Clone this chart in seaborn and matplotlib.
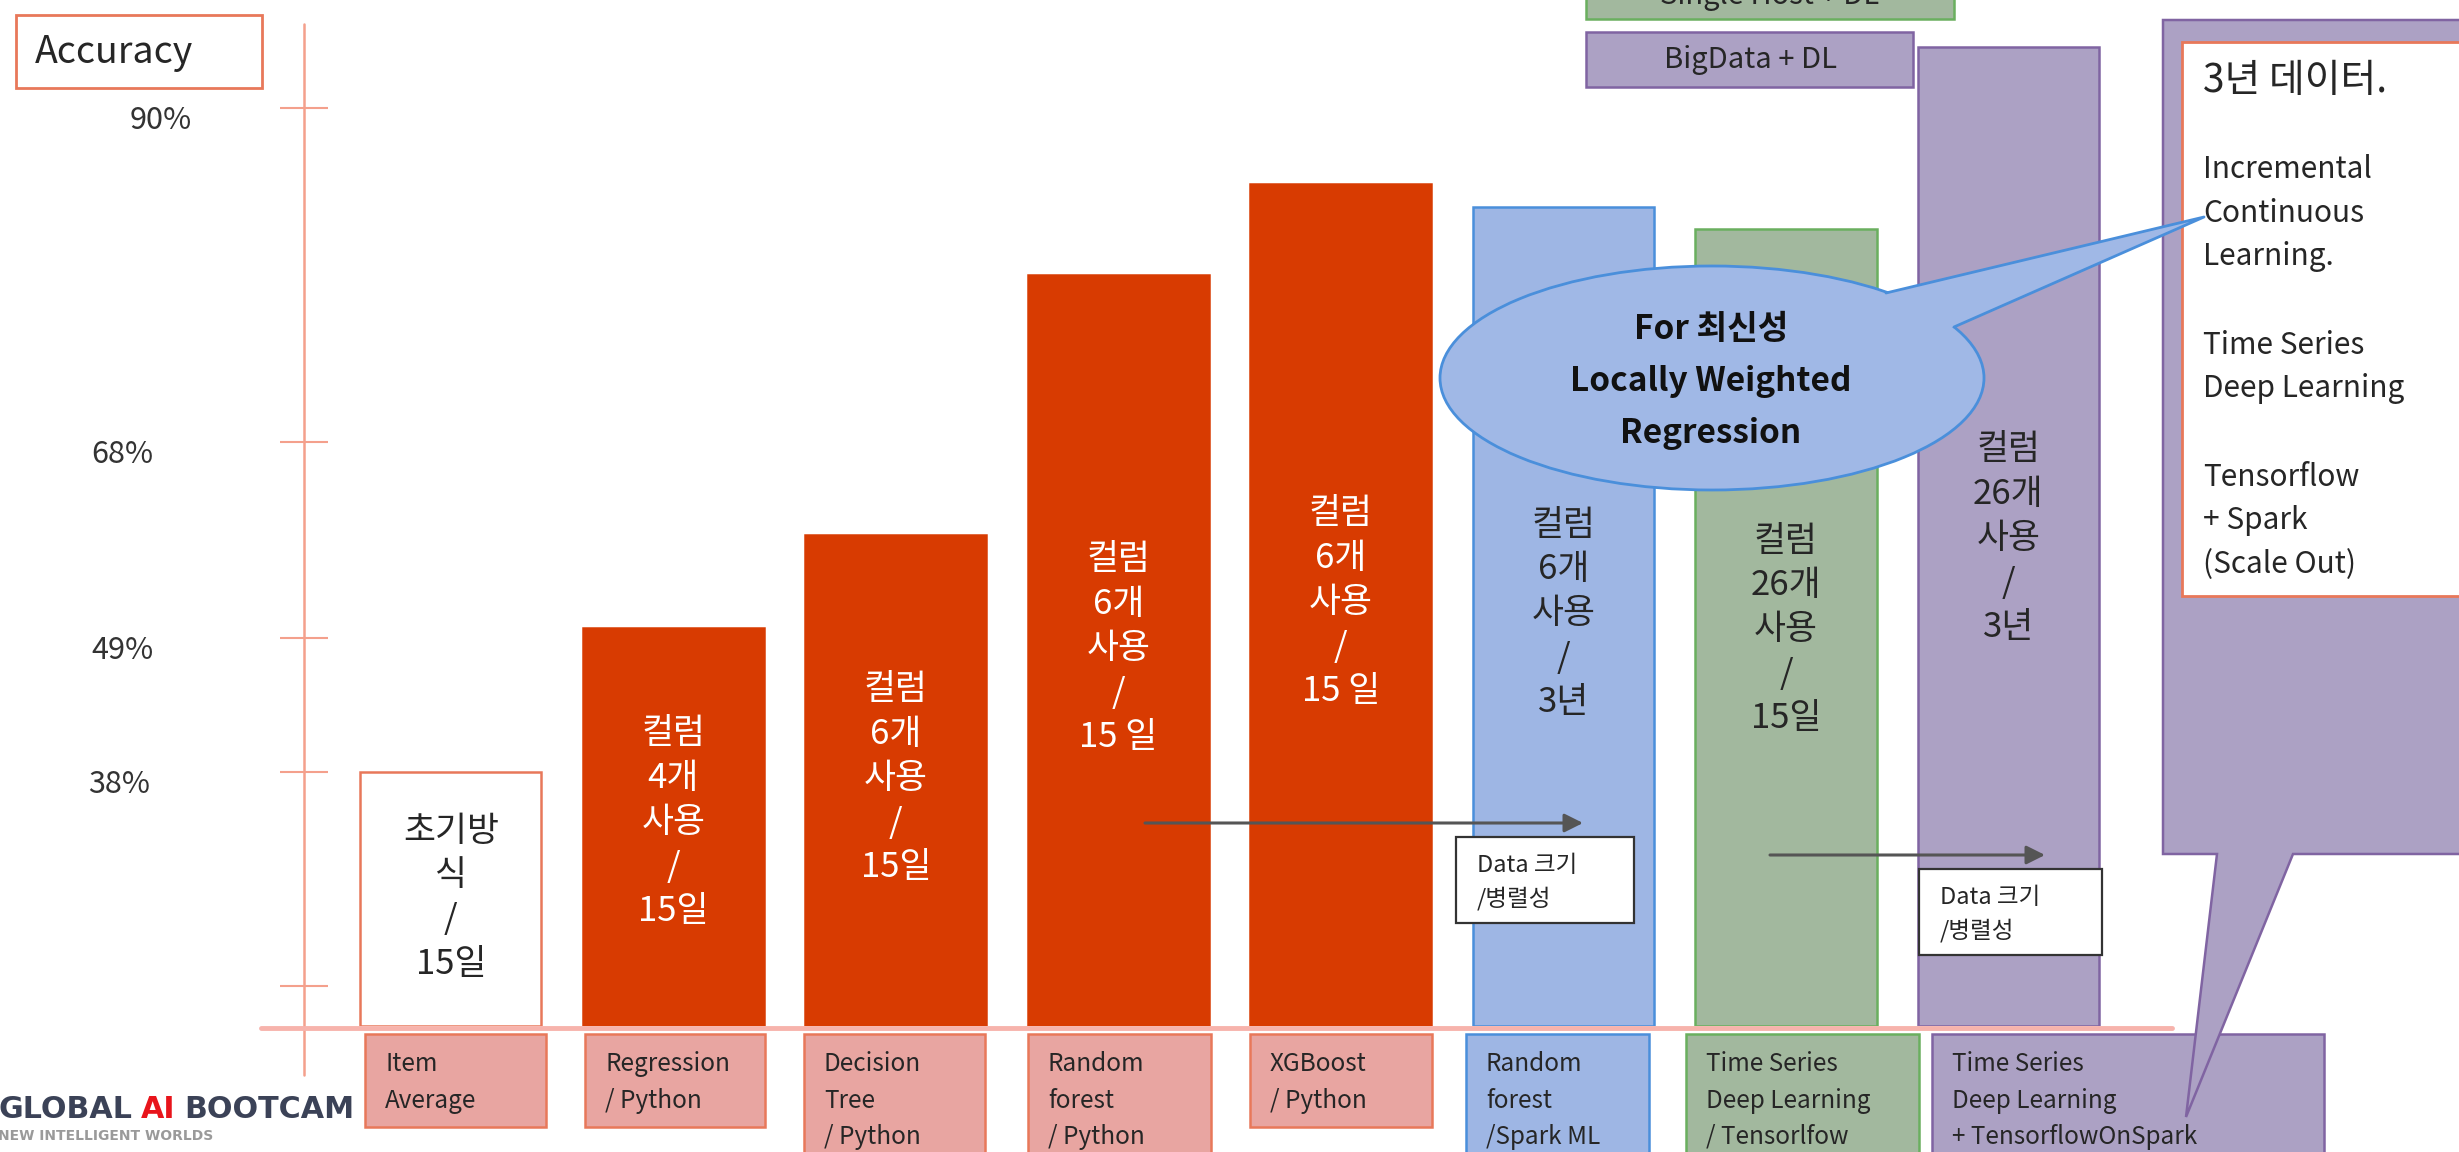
import numpy as np
import matplotlib
matplotlib.use("Agg")
import matplotlib.pyplot as plt
import matplotlib.transforms as mtransforms
from matplotlib.patches import Rectangle, Ellipse, Polygon
import seaborn as sns

# values
methods = ["Item\nAverage", "Regression\n/ Python", "Decision\nTree\n/ Python",
           "Random\nforest\n/ Python", "XGBoost\n/ Python", "Random\nforest\n/Spark ML",
           "Time Series\nDeep Learning\n/ Tensorlfow",
           "Time Series\nDeep Learning\n+ TensorflowOnSpark"]
accuracy = [38, 50, 59, 79, 85, 83.5, 82, 94]
bar_notes = ["초기방\n식\n/\n15일", "컬럼\n4개\n사용\n/\n15일", "컬럼\n6개\n사용\n/\n15일",
             "컬럼\n6개\n사용\n/\n15 일", "컬럼\n6개\n사용\n/\n15 일", "컬럼\n6개\n사용\n/\n3년",
             "컬럼\n26개\n사용\n/\n15일", "컬럼\n26개\n사용\n/\n3년"]
tick_values = [6, 38, 49, 68, 90]
tick_labels = ["", "38%", "49%", "68%", "90%"]
legend_labels = ["Single Host + DL", "BigData + DL"]
side_title = "3년 데이터."
side_lines = ["Incremental", "Continuous", "Learning.", "", "Time Series", "Deep Learning",
              "", "Tensorflow", "+ Spark", "(Scale Out)"]
balloon_lines = ["For 최신성", "Locally Weighted", "Regression"]
data_note = ["Data 크기", "/병렬성"]

# the slide's accuracy axis is hand drawn, not linear
knot_pct = [0, 38, 49, 68, 90, 100]
knot_pos = [0, 254, 388, 584, 918, 1070]


def fwd(v):
    return np.interp(v, knot_pct, knot_pos)


def inv(p):
    return np.interp(p, knot_pos, knot_pct)


ORANGE = "#D83B01"
SALMON = "#E8785A"
PINK = "#E8A5A1"
BLUE, BLUE_E = "#9EB6E4", "#4A8FDB"
GREEN, GREEN_E = "#A2B89E", "#6AAF5F"
PURPLE, PURPLE_E = "#ACA1C4", "#8064A2"
DARK = "#262626"

fills = ["#FFFFFF", ORANGE, ORANGE, ORANGE, ORANGE, BLUE, GREEN, PURPLE]
edges = [SALMON, ORANGE, ORANGE, ORANGE, ORANGE, BLUE_E, GREEN_E, PURPLE_E]
note_colors = [DARK, "white", "white", "white", "white", DARK, DARK, DARK]

sns.set_theme(style="white")
plt.rcParams["font.family"] = ["Noto Sans CJK KR", "DejaVu Sans"]

W, H = 2459, 1152
fig = plt.figure(figsize=(W / 100, H / 100), dpi=100)

ax = fig.add_axes([304 / W, 1 - 1026 / H, (2172 - 304) / W, 1026 / H])
ax.set_yscale("function", functions=(fwd, inv))
sns.barplot(x=methods, y=accuracy, hue=methods, palette=fills, legend=False,
            width=0.814, saturation=1, ax=ax)
for p, ec in zip(ax.patches, edges):
    p.set_edgecolor(ec)
    p.set_linewidth(1.8)
ax.set_xlim(-0.660, 7.735)
ax.set_ylim(0, 97.1)
ax.set_xticks([])
ax.set_xlabel("")
ax.set_yticks(tick_values)
ax.set_yticklabels([])
ax.tick_params(axis="y", left=True, direction="inout", length=35, width=1.5,
               color="#F4A08C")
ax.minorticks_off()
for s in ax.spines.values():
    s.set_visible(False)
ax.set_facecolor("none")

# overlay in slide pixels for the annotations
over = fig.add_axes([0, 0, 1, 1])
over.set_xlim(0, W)
over.set_ylim(H, 0)
over.axis("off")
over.patch.set_alpha(0)

# axis line and base line
over.plot([304, 304], [24, 1075], color="#F4A08C", lw=1.8, zorder=2)
over.plot([261, 2172], [1028, 1028], color="#F7B3AC", lw=3.5, zorder=2)

# tick labels sit a little under their ticks
ylab = mtransforms.offset_copy(
    mtransforms.blended_transform_factory(over.transData, ax.transData),
    fig=fig, x=0, y=-13, units="dots")
for v, lab, lx in zip(tick_values, tick_labels, [0, 119, 122, 122, 161]):
    if lab:
        over.text(lx, v, lab, transform=ylab, ha="center", va="center",
                  fontsize=22, color="#333333")

# accuracy box
over.add_patch(Rectangle((16, 15), 246, 73, facecolor="white", edgecolor=SALMON, lw=2))
over.text(35, 52, "Accuracy", fontsize=27, va="center", color=DARK)

# text in the bars
bx = mtransforms.blended_transform_factory(ax.transData, over.transData)
first_y = [831, 734, 690, 560, 514, 525, 541, 450]
for i, (note, c) in enumerate(zip(bar_notes, note_colors)):
    for k, line in enumerate(note.split("\n")):
        over.text(i, first_y[i] + k * 44.4, line, transform=bx, ha="center",
                  va="center", fontsize=25, color=c, zorder=3)

# logo, sized so that it ends where the first label box begins
logo_font = dict(fontweight="bold", family="DejaVu Sans", va="baseline", zorder=1)
probe = over.text(0, 1120, "GLOBAL AI BOOTCAM", fontsize=30, **logo_font)
fig.canvas.draw()
logo_size = 30 * 360 / probe.get_window_extent().width
probe.remove()
t1 = over.text(-2, 1118, "GLOBAL", fontsize=logo_size, color="#3B4257", **logo_font)
gap = logo_size * 0.3
logo_font["va"] = "bottom"
t2 = over.annotate("AI", xy=(1, 0), xycoords=t1, xytext=(gap, 0),
                   textcoords="offset points", fontsize=logo_size, color="#E8141B",
                   **logo_font)
over.annotate("BOOTCAM", xy=(1, 0), xycoords=t2, xytext=(gap, 0),
              textcoords="offset points", fontsize=logo_size, color="#3B4257",
              **logo_font)
over.text(-2, 1136, "NEW INTELLIGENT WORLDS", fontsize=10, fontweight="bold",
          family="DejaVu Sans", color="#9A9A9A", va="center", zorder=1)

# method label boxes under the bars
box_x = [(365, 546), (585, 765), (804, 985), (1028, 1211), (1250, 1432),
         (1466, 1649), (1686, 1919), (1932, 2324)]
box_bottom = [1127, 1127, 1165, 1165, 1127, 1165, 1165, 1165]
box_fill = [PINK] * 5 + [BLUE, GREEN, PURPLE]
box_edge = [SALMON] * 5 + [BLUE_E, GREEN_E, PURPLE_E]
for (x0, x1), yb, fc, ec, lab in zip(box_x, box_bottom, box_fill, box_edge, methods):
    over.add_patch(Rectangle((x0, 1034), x1 - x0, yb - 1034, facecolor=fc,
                             edgecolor=ec, lw=1.8, zorder=4))
    for k, line in enumerate(lab.split("\n")):
        over.text(x0 + 20, 1064 + k * 36.5, line, fontsize=17.5, va="center",
                  color=DARK, zorder=5)

# legend boxes at the top
over.add_patch(Rectangle((1586, -10), 368, 29, facecolor=GREEN, edgecolor=GREEN_E,
                         lw=1.8, zorder=4))
over.text(1770, -4, legend_labels[0], fontsize=21, ha="center", va="center",
          color=DARK, zorder=5)
over.add_patch(Rectangle((1586, 32), 327, 55, facecolor=PURPLE, edgecolor=PURPLE_E,
                         lw=1.8, zorder=4))
over.text(1750, 60, legend_labels[1], fontsize=21, ha="center", va="center",
          color=DARK, zorder=5)

# data size arrows
for (xs, xe, y) in [(1145, 1583, 823), (1770, 2045, 855)]:
    over.annotate("", xy=(xe, y), xytext=(xs, y), zorder=5,
                  arrowprops=dict(arrowstyle="-|>", color="#555555", lw=2.2,
                                  mutation_scale=28, shrinkA=0, shrinkB=0))
for (x0, y0, w, h, ty) in [(1456, 837, 178, 86, 865), (1919, 869, 183, 86, 897)]:
    over.add_patch(Rectangle((x0, y0), w, h, facecolor="white", edgecolor="#333333",
                             lw=1.6, zorder=5))
    for k, line in enumerate(data_note):
        over.text(x0 + 21, ty + k * 34, line, fontsize=17, va="center",
                  color=DARK, zorder=6)

# right speech bubble with notes
over.add_patch(Polygon([(2163, 20), (2475, 20), (2475, 854), (2293, 854),
                        (2186, 1117), (2217, 854), (2163, 854)], closed=True,
                       facecolor=PURPLE, edgecolor=PURPLE_E, lw=1.8, zorder=6))
over.add_patch(Rectangle((2182, 42), 300, 554, facecolor="white", edgecolor=SALMON,
                         lw=2, zorder=7))
over.text(2203, 81, side_title, fontsize=28, va="center", color=DARK, zorder=8)
for k, line in enumerate(side_lines):
    over.text(2203, 169 + k * 44, line, fontsize=21.5, va="center", color=DARK,
              zorder=8)

# blue balloon
over.add_patch(Ellipse((1712, 378), 544, 224, facecolor="#A0B8E6", edgecolor=BLUE_E,
                       lw=2, zorder=9))
over.add_patch(Polygon([(1886, 293), (2204, 217), (1954, 327), (1860, 345)],
                       closed=True, facecolor="#A0B8E6", edgecolor="none", zorder=9))
over.plot([1886, 2204, 1954], [293, 217, 327], color=BLUE_E, lw=2, zorder=9)
for k, line in enumerate(balloon_lines):
    over.text(1711, 330 + k * 52, line, fontsize=24, fontweight="bold", ha="center",
              va="center", color="#111111", zorder=10)

fig.savefig("out.png", dpi=100)
